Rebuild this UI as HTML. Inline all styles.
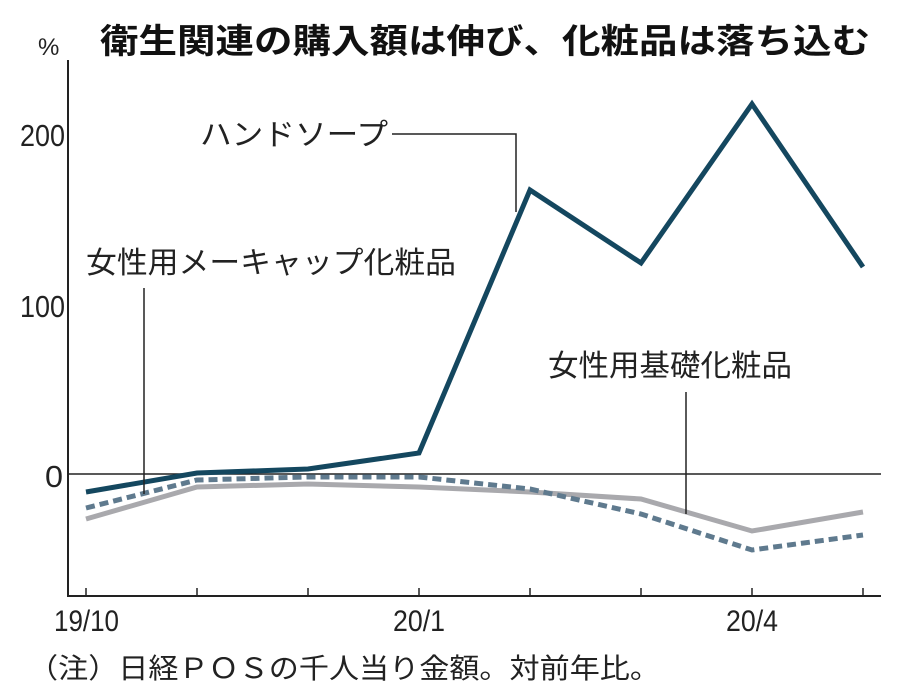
<!DOCTYPE html>
<html><head><meta charset="utf-8"><style>
body{margin:0;background:#fff;}
svg{display:block;font-family:"Liberation Sans","Noto Sans CJK JP",sans-serif;}
</style></head><body>
<svg width="900" height="695" viewBox="0 0 900 695">
<rect width="900" height="695" fill="#fff"/>
<text x="38" y="55" font-size="24" fill="#222">%</text>
<text x="100" y="53" font-size="34" font-weight="bold" fill="#111" textLength="770" lengthAdjust="spacingAndGlyphs">衛生関連の購入額は伸び、化粧品は落ち込む</text>
<g font-size="31" fill="#222">
<text x="20" y="146" textLength="45" lengthAdjust="spacingAndGlyphs">200</text>
<text x="20" y="317" textLength="45" lengthAdjust="spacingAndGlyphs">100</text>
<text x="45" y="487" textLength="18" lengthAdjust="spacingAndGlyphs">0</text>
</g>
<line x1="68" y1="474" x2="881" y2="474" stroke="#222" stroke-width="1.5"/>
<polyline points="68,60 68,596 881,596" fill="none" stroke="#222" stroke-width="2"/>
<g stroke="#222" stroke-width="1.5">
<line x1="86" y1="588" x2="86" y2="596"/><line x1="197" y1="588" x2="197" y2="596"/>
<line x1="308" y1="588" x2="308" y2="596"/><line x1="419" y1="588" x2="419" y2="596"/>
<line x1="530" y1="588" x2="530" y2="596"/><line x1="641" y1="588" x2="641" y2="596"/>
<line x1="752" y1="588" x2="752" y2="596"/><line x1="863" y1="588" x2="863" y2="596"/>
</g>
<g font-size="30" fill="#222">
<text x="54" y="631" textLength="65" lengthAdjust="spacingAndGlyphs">19/10</text>
<text x="393" y="631" textLength="52" lengthAdjust="spacingAndGlyphs">20/1</text>
<text x="726" y="631" textLength="52" lengthAdjust="spacingAndGlyphs">20/4</text>
</g>
<text x="28" y="678" font-size="28" fill="#222" textLength="632" lengthAdjust="spacingAndGlyphs">（注）日経ＰＯＳの千人当り金額。対前年比。</text>
<polyline points="86,519 197,487 308,484 419,487 530,492 641,499 752,531 863,512" fill="none" stroke="#a9a9ad" stroke-width="5"/>
<polyline points="86,508 197,480 308,477 419,477 530,489 641,514 752,550 863,535" fill="none" stroke="#5f7a8e" stroke-width="5" stroke-dasharray="9,5"/>
<polyline points="86,492 197,473 308,469 419,453 530,190 641,263 752,104 863,267" fill="none" stroke="#14475f" stroke-width="5"/>
<g stroke="#222" stroke-width="1.5" fill="none">
<polyline points="392,134 516,134 516,212"/>
<line x1="144" y1="288" x2="144" y2="494"/>
<line x1="686" y1="392" x2="686" y2="514"/>
</g>
<g font-size="30" fill="#222">
<text x="200" y="145" textLength="188" lengthAdjust="spacingAndGlyphs">ハンドソープ</text>
<text x="86" y="273" textLength="370" lengthAdjust="spacingAndGlyphs">女性用メーキャップ化粧品</text>
<text x="548" y="376" textLength="244" lengthAdjust="spacingAndGlyphs">女性用基礎化粧品</text>
</g>
</svg>
</body></html>
